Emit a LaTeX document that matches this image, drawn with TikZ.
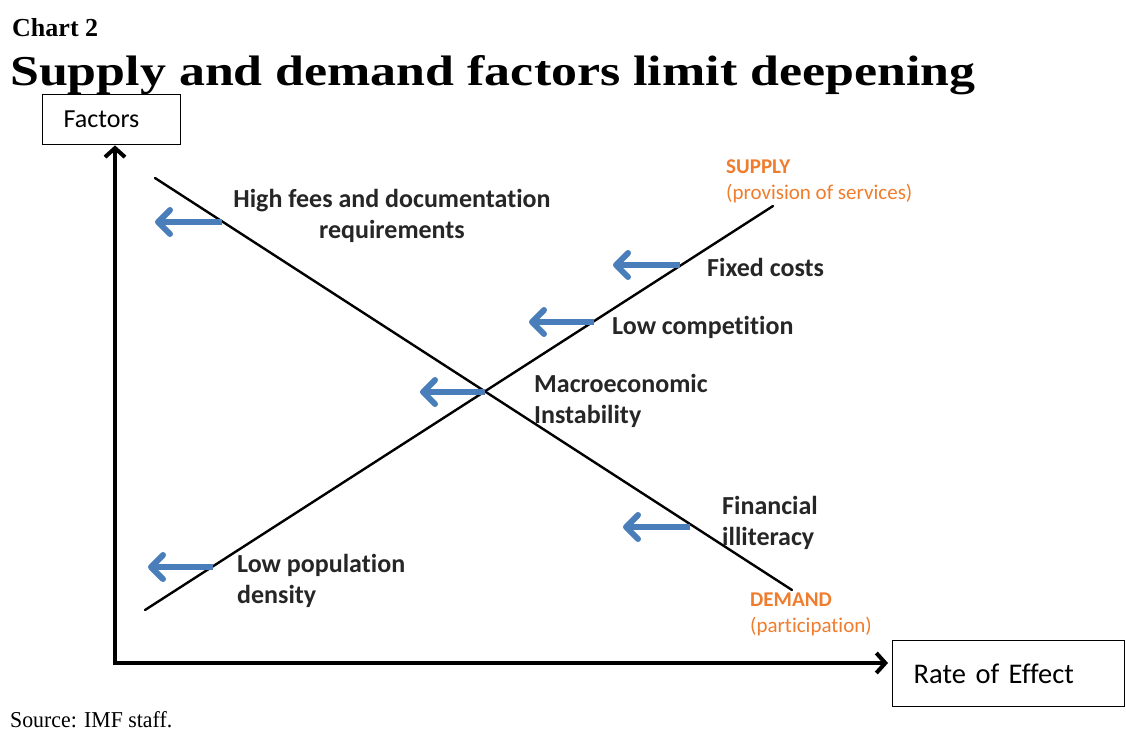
\documentclass[tikz,border=0pt]{standalone}
\usepackage{fontspec}
\setmainfont[Ligatures=NoCommon]{Carlito}
\newfontfamily\serifttl{Liberation Serif}
\usetikzlibrary{arrows.meta}
\definecolor{arrblue}{HTML}{4A7EBB}
\definecolor{lblgray}{HTML}{262626}
\definecolor{orng}{HTML}{F07D2E}
\begin{document}
\begin{tikzpicture}[x=1pt,y=-1pt,
  axis/.style={line width=4pt,-{Straight Barb[length=9pt,width=20pt,line width=4pt]}},
  curve/.style={line width=2.4pt,line cap=round},
  shift arrow/.style={draw=arrblue,line width=5.5pt,-{Straight Barb[length=12pt,width=24pt,line width=6pt,round]}},
  lbl/.style={font=\bfseries\fontsize{26}{31}\selectfont,text=lblgray,inner sep=0pt,align=left,anchor=base west},
  olbl/.style={font=\bfseries\fontsize{21}{26}\selectfont,text=orng,inner sep=0pt,align=left,anchor=base west},
  axbox/.style={draw,line width=1.4pt,anchor=north west,align=left,font=\fontsize{26}{30}\selectfont}]
\useasboundingbox[fill=white] (0,0) rectangle (1126,732);
% titles
\node[anchor=base west,inner sep=0pt] (chart) at (12,36) {\resizebox{86pt}{18pt}{\serifttl\bfseries Chart 2}};
\node[anchor=base west,inner sep=0pt] (title) at (10,85) {\resizebox{965pt}{30pt}{\serifttl\bfseries Supply and demand factors limit deepening}};
\node[anchor=base west,inner sep=0pt] (source) at (10,727) {\resizebox{162pt}{16pt}{\serifttl Source: IMF staff.}};
% axis boxes
\node[axbox,minimum height=50pt,text width=96pt,inner xsep=21pt] (fbox) at (42,94) {Factors};
\node[axbox,minimum height=66pt,text width=190pt,inner xsep=21pt,font=\fontsize{28.5}{32}\selectfont] (rbox) at (892,640) {Rate of Effect};
% axes
\coordinate (origin) at (115,663);
\draw[axis] ([yshift=2pt]origin) -- (origin |- fbox.south);
\draw[axis,shorten >=4pt] ([xshift=-2pt]origin) -- (origin -| rbox.west);
% curves
\coordinate (d1) at (155,178);
\coordinate (d2) at (792,590);
\coordinate (s1) at (145,610);
\coordinate (s2) at (773,206);
\draw[curve] (d1) -- (d2);
\draw[curve] (s1) -- (s2);
% shift arrows
\coordinate (a1s) at (222,222); \coordinate (a1e) at (155,222);
\coordinate (a2s) at (680,265); \coordinate (a2e) at (613,265);
\coordinate (a3s) at (594,322); \coordinate (a3e) at (529,322);
\coordinate (a4s) at (485,392); \coordinate (a4e) at (420,392);
\coordinate (a5s) at (690,527); \coordinate (a5e) at (623,527);
\coordinate (a6s) at (213,567); \coordinate (a6e) at (148,567);
\draw[shift arrow] (a1s) -- (a1e);
\draw[shift arrow] (a2s) -- (a2e);
\draw[shift arrow] (a3s) -- (a3e);
\draw[shift arrow] (a4s) -- (a4e);
\draw[shift arrow] (a5s) -- (a5e);
\draw[shift arrow] (a6s) -- (a6e);
% labels (base anchor = baseline of last line)
\node[lbl,align=center,anchor=base] (fees) at (392,238) {High fees and documentation\\requirements};
\node[lbl] (fixed) at (707,276) {Fixed costs};
\node[lbl] (comp) at (612,334) {Low competition};
\node[lbl] (macro) at (534,423) {Macroeconomic\\Instability};
\node[lbl] (fin) at (722,545) {Financial\\illiteracy};
\node[lbl] (pop) at (237,603) {Low population\\density};
\node[olbl] (supply) at (726,199) {SUPPLY\\{\mdseries(provision of services)}};
\node[olbl] (demand) at (750,632) {DEMAND\\{\mdseries(participation)}};
\end{tikzpicture}
\end{document}
